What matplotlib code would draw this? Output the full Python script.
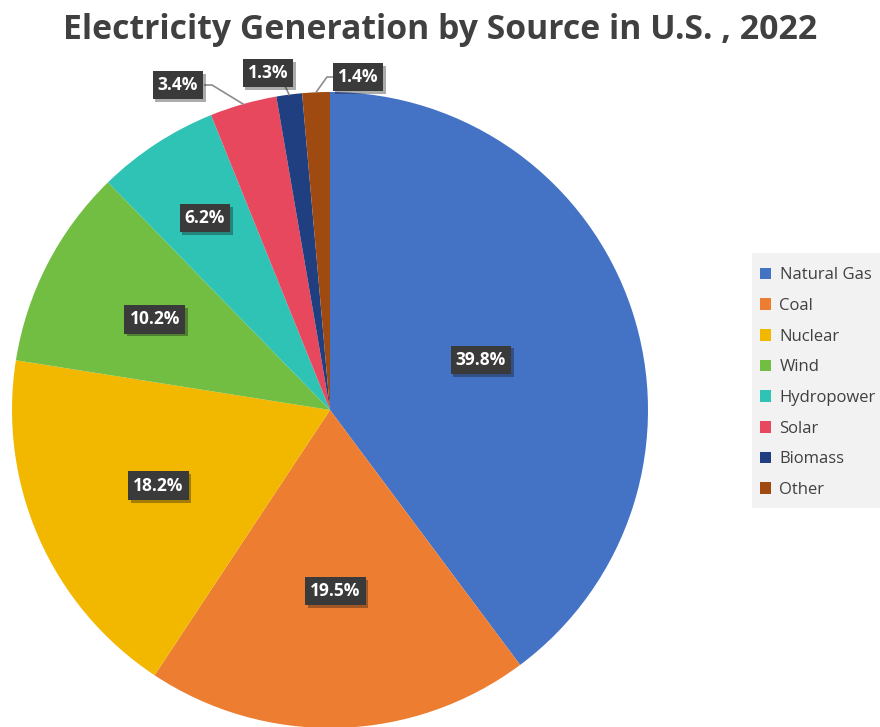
import matplotlib
matplotlib.use("Agg")
import matplotlib.pyplot as plt
import numpy as np
from matplotlib import patheffects as pe
from matplotlib.patches import Rectangle

sources = ["Natural Gas", "Coal", "Nuclear", "Wind", "Hydropower", "Solar", "Biomass", "Other"]
shares = [39.8, 19.5, 18.2, 10.2, 6.2, 3.4, 1.3, 1.4]
colors = ["#4472C4", "#ED7D31", "#F2B800", "#72BE42", "#2EC3B5", "#E8485E", "#203F80", "#9E4A10"]

W, H = 880, 727
fig = plt.figure(figsize=(W / 100, H / 100), dpi=100)
ax = fig.add_axes([0, 0, 1, 1])

cx, cy, R = 330, H - 410, 318
wedges, _ = ax.pie(shares, colors=colors, startangle=90, counterclock=False,
                   center=(cx, cy), radius=R, frame=True,
                   wedgeprops=dict(linewidth=0))
ax.set_xlim(0, W)
ax.set_ylim(0, H)
ax.set_aspect("equal")
ax.axis("off")

font = "Open Sans"
box = dict(boxstyle="square,pad=0.3", fc="#3a3a3a", ec="none")
shadow = [pe.SimplePatchShadow(offset=(2, -2), alpha=0.35), pe.Normal()]

# inside labels: radius fraction for each
inside_r = [0.50, 0.57, 0.59, 0.62, 0.72]
cum = np.cumsum([0] + shares)
for i, r in enumerate(inside_r):
    mid = (cum[i] + cum[i + 1]) / 2 / 100 * 360
    ang = np.deg2rad(90 - mid)
    t = ax.text(cx + r * R * np.cos(ang), cy + r * R * np.sin(ang), f"{shares[i]}%",
                ha="center", va="center", color="white", fontsize=12.5, fontweight="bold",
                family=font, bbox=box)
    t.get_bbox_patch().set_path_effects(shadow)

# outside labels with leader lines
out_pos = {5: (178, H - 85), 6: (268, H - 73), 7: (358, H - 77)}
elbow = {5: [(205, H - 85), (212, H - 85)], 6: [(285, H - 86), (285, H - 86)], 7: [(336, H - 77), (327, H - 77)]}
for i, (lx, ly) in out_pos.items():
    mid = (cum[i] + cum[i + 1]) / 2 / 100 * 360
    ang = np.deg2rad(90 - mid)
    ex, ey = cx + R * np.cos(ang), cy + R * np.sin(ang)
    pts = elbow[i] + [(ex, ey)]
    ax.plot([p[0] for p in pts], [p[1] for p in pts], color="#8c8c8c", lw=1.2, zorder=1)
    t = ax.text(lx, ly, f"{shares[i]}%", ha="center", va="center", color="white",
                fontsize=12.5, fontweight="bold", family=font, bbox=box, zorder=5)
    t.get_bbox_patch().set_path_effects(shadow)

fig.text(440 / W, 1 - 30 / H, "Electricity Generation by Source in U.S. , 2022",
         ha="center", va="center", fontsize=24.3, fontweight="bold", color="#404040",
         family=font)

# legend background panel
fig.patches.append(Rectangle((752 / W, 1 - 508 / H), 128 / W, 255 / H,
                             transform=fig.transFigure, facecolor="#f2f2f2",
                             edgecolor="none", zorder=0))
leg = fig.legend(wedges, sources, loc="upper left", bbox_to_anchor=(752 / W, 1 - 260 / H),
                 frameon=False, prop=dict(family=font, size=12),
                 handlelength=0.7, handleheight=0.7, handletextpad=0.5,
                 labelspacing=0.88, borderpad=0.45, borderaxespad=0,
                 labelcolor="#404040")

fig.savefig("out.png", dpi=100, facecolor="white")
